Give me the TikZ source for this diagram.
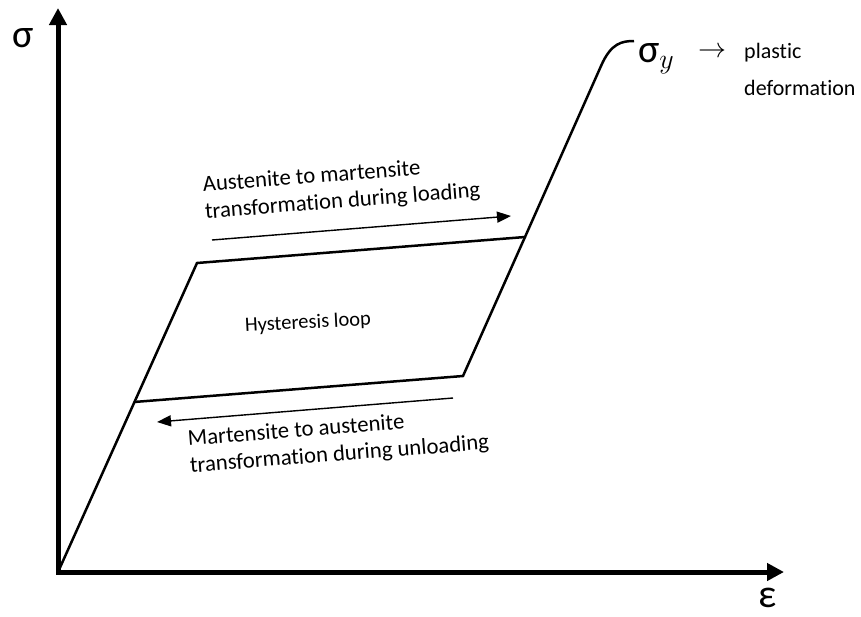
\RequirePackage{fix-cm}
\documentclass[tikz,border=0pt]{standalone}
\usepackage{fontspec}
\setmainfont{Carlito}[Ligatures={NoCommon}]
\usetikzlibrary{arrows.meta,positioning}

\begin{document}
\begin{tikzpicture}[x=1pt,y=-1pt,
    axis/.style={line width=5pt,line join=miter,{Triangle[length=17pt,width=17pt]}-{Triangle[length=17pt,width=17pt]}},
    curve/.style={line width=2.5pt,line join=miter},
    flow/.style={line width=1.4pt,-{Triangle[length=14pt,width=11pt]}},
    lbl/.style={inner sep=0pt,align=left,font=\fontsize{22.7}{27}\selectfont},
    big/.style={inner sep=0pt,font=\fontsize{40}{40}\selectfont}]
  \useasboundingbox (0,0) rectangle (861,616);
  % axes
  \coordinate (O) at (58,572);
  \coordinate (ytip) at (58,8);
  \coordinate (xtip) at (784,572);
  \draw[axis] (ytip) -- (O) -- (xtip);
  \node[big] (sig) at (23,38) {σ};
  \node[big] (eps) at (768,598) {ε};
  % stress-strain path
  \coordinate (A) at (134,402);
  \coordinate (B) at (197,263);
  \coordinate (C) at (525,237);
  \coordinate (D) at (463,376);
  \coordinate (bend) at (601,66);
  \coordinate (Y) at (634,41);
  \draw[curve] (O) -- (B) -- (C) -- (bend) .. controls (611,43) and (622,41) .. (Y);
  \draw[curve] (A) -- (D) -- (C);
  % loading / unloading arrows
  \coordinate (up0) at (212,240);
  \coordinate (up1) at (511,216);
  \coordinate (dn0) at (453,398);
  \coordinate (dn1) at (157,422);
  \draw[flow] (up0) -- (up1);
  \draw[flow] (dn0) -- (dn1);
  \node[lbl,rotate=4.5,anchor=north west] (load) at (202,176) {Austenite to martensite\\transformation during loading};
  \node[lbl,rotate=4.5,anchor=north west] (unload) at (187,430) {Martensite to austenite\\transformation during unloading};
  \node[lbl,rotate=3,font=\fontsize{20.5}{25}\selectfont] (loop) at (308,323) {Hysteresis loop};
  % yield
  \node[big,anchor=base west] (sy) at (638,62) {σ$_y$};
  \node[inner sep=0pt,anchor=base west,font=\fontsize{28}{28}\selectfont] (to) at (698,57) {$\rightarrow$};
  \node[inner sep=0pt,anchor=base west,align=left,font=\fontsize{22}{37}\selectfont] (plast) at (744,95) {plastic\\deformation};
\end{tikzpicture}
\end{document}
